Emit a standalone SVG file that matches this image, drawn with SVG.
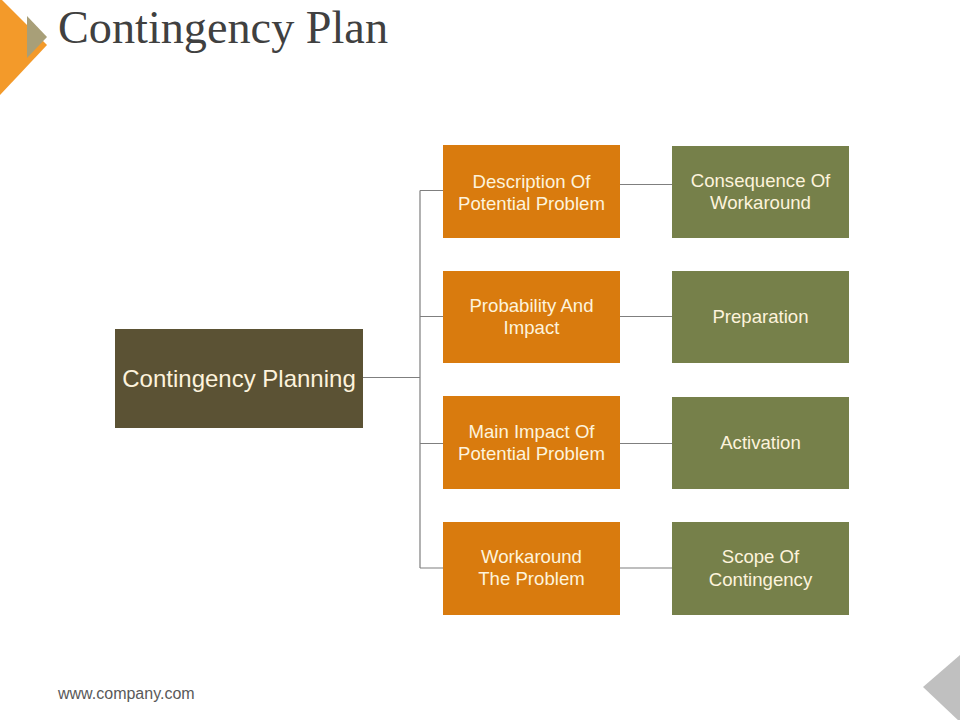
<svg xmlns="http://www.w3.org/2000/svg" width="960" height="720" viewBox="0 0 960 720">
<style>
.o{fill:#d97b0e}
.g{fill:#76804a}
.t{font-family:"Liberation Sans",Arial,sans-serif;font-size:18.6px;fill:#fdf3dc;text-anchor:middle}
.c{stroke:#7f7f7f;stroke-width:1.2;fill:none}
</style>
<rect width="960" height="720" fill="#ffffff"/>
<g id="decor">
<polygon points="0,-2 47,45 0,95" fill="#f39a2a"/>
<polygon points="27,16 47,37 27,58" fill="#a89f78"/>
<polygon points="923,687 960,655 960,722" fill="#c0c0c0"/>
</g>
<text x="58" y="43" font-family="'Liberation Serif','Times New Roman',serif" font-size="47" fill="#404040" textLength="330" lengthAdjust="spacingAndGlyphs">Contingency Plan</text>
<text x="58" y="699" font-family="'Liberation Sans',Arial,sans-serif" font-size="16" fill="#595959">www.company.com</text>
<g id="connectors">
<path class="c" d="M363,377.5H420M420,190.5V568M420,190.5H443M420,316.5H443M420,443.5H443M420,568H443"/>
<path class="c" d="M620,184.5H672M620,316.5H672M620,443.5H672M620,568H672"/>
</g>
<g id="center">
<rect x="115" y="329" width="248" height="99" fill="#5b5234"/>
<text class="t" x="239" y="386.5" style="font-size:24px">Contingency Planning</text>
</g>
<g id="o1"><rect class="o" x="443" y="145" width="177" height="93"/>
<text class="t" x="531.5" y="188">Description Of</text><text class="t" x="531.5" y="210">Potential Problem</text></g>
<g id="o2"><rect class="o" x="443" y="271" width="177" height="92"/>
<text class="t" x="531.5" y="312">Probability And</text><text class="t" x="531.5" y="334">Impact</text></g>
<g id="o3"><rect class="o" x="443" y="396" width="177" height="93"/>
<text class="t" x="531.5" y="438">Main Impact Of</text><text class="t" x="531.5" y="460">Potential Problem</text></g>
<g id="o4"><rect class="o" x="443" y="522" width="177" height="93"/>
<text class="t" x="531.5" y="563">Workaround</text><text class="t" x="531.5" y="585">The Problem</text></g>
<g id="g1"><rect class="g" x="672" y="146" width="177" height="92"/>
<text class="t" x="760.5" y="187">Consequence Of</text><text class="t" x="760.5" y="209">Workaround</text></g>
<g id="g2"><rect class="g" x="672" y="271" width="177" height="92"/>
<text class="t" x="760.5" y="323">Preparation</text></g>
<g id="g3"><rect class="g" x="672" y="397" width="177" height="92"/>
<text class="t" x="760.5" y="449">Activation</text></g>
<g id="g4"><rect class="g" x="672" y="522" width="177" height="93"/>
<text class="t" x="760.5" y="563">Scope Of</text><text class="t" x="760.5" y="586">Contingency</text></g>
</svg>
